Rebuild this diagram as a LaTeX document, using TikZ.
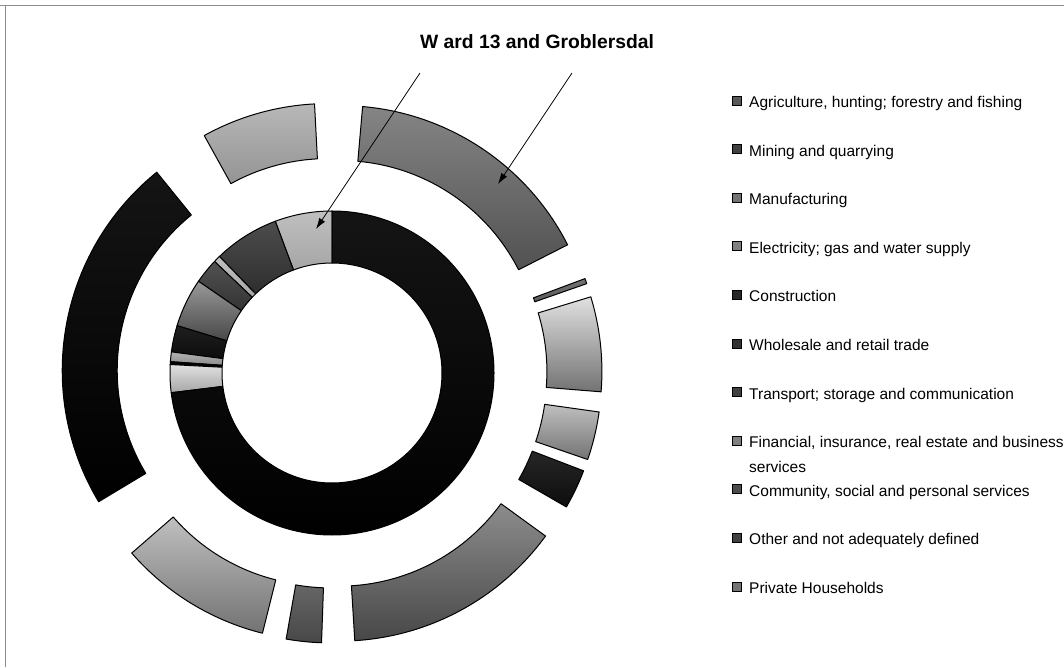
\documentclass[tikz,border=0pt]{standalone}
\usepackage{fontspec}
\setmainfont{Liberation Sans}
\usepackage{tikz}
\usetikzlibrary{arrows.meta}

\tikzset{
  slice/.style={draw=black, line width=1pt, line join=round},
  keybox/.style={draw=black, line width=0.7pt, minimum size=9pt, inner sep=0pt},
  legtext/.style={anchor=base west, inner sep=0pt, font=\fontsize{15.5}{18}\selectfont},
  pointer/.style={-{Latex[length=11pt,width=7pt]}, line width=0.8pt},
}

\begin{document}
\begin{tikzpicture}[x=1pt, y=1pt]
    \useasboundingbox (0,0) rectangle (1064,667);

    % scan frame
    \draw[black!45, line width=0.8pt] (0,662) -- (1064,662);
    \draw[black!45, line width=0.8pt] (5,0) -- (5,662);

    \node[font=\fontsize{19.3}{22}\selectfont\bfseries, anchor=base] (title) at (537,618) {W ard 13 and Groblersdal};

    \begin{scope}[shift={(332,294)}]
        % outer ring, each slice pushed out along its bisector
        \foreach \a/\b/\ct/\cb in {27/85/black!48/black!68, 19.3/20.5/black!55/black!65,
                -4.6/17/black!12/black!55, -19/-8/black!25/black!55, -30/-21/black!85/black!95,
                -86.5/-36/black!45/black!72, -100/-92/black!60/black!72,
                -139/-104/black!25/black!55, 129/211/black!92/black, 93/119/black!28/black!42} {
                \pgfmathsetmacro{\bis}{(\a+\b)/2};
                \begin{scope}[shift={(\bis:15)}]
                    \path[slice, top color=\ct, bottom color=\cb]
                    (\a:200) arc[start angle=\a, end angle=\b, radius=200]
                    -- (\b:255) arc[start angle=\b, end angle=\a, radius=255] -- cycle;
                \end{scope}
            }

        % inner ring
        \foreach \a/\b/\ct/\cb in {90/110.5/black!25/black!35, 110.5/134/black!70/black!82,
                134/136.5/black!25/black!35, 136.5/145.5/black!68/black!80,
                145.5/163/black!40/black!72, 163/172.5/black!88/black!95,
                172.5/176/black!30/black!45, 176/177/black/black, 177/187/black!12/black!35,
                187/450/black!92/black} {
                \path[slice, top color=\ct, bottom color=\cb]
                (\a:110) arc[start angle=\a, end angle=\b, radius=110]
                -- (\b:162) arc[start angle=\b, end angle=\a, radius=162] -- cycle;
            }
    \end{scope}

    \coordinate (ptrA) at (420,594);
    \coordinate (tipA) at (316,438);
    \coordinate (ptrB) at (572,594);
    \coordinate (tipB) at (498,483);
    \draw[pointer] (ptrA) -- (tipA);
    \draw[pointer] (ptrB) -- (tipB);

    % legend
    \foreach \lab/\col [count=\i from 0] in {{Agriculture, hunting; forestry and fishing}/black!65,
            {Mining and quarrying}/black!75, {Manufacturing}/black!55,
            {Electricity; gas and water supply}/black!50, {Construction}/black!85,
            {Wholesale and retail trade}/black!80, {Transport; storage and communication}/black!75,
            {\begin{tabular}[t]{@{}l@{}}Financial, insurance, real estate and business\\[7pt]services\end{tabular}}/black!50,
            {Community, social and personal services}/black!70,
            {Other and not adequately defined}/black!75, {Private Households}/black!55} {
            \node[keybox, fill=\col] (key\i) at (736.5, {566.5-48.6*\i}) {};
            \node[legtext] (leg\i) at (749, {559.5-48.6*\i}) {\lab};
        }

\end{tikzpicture}
\end{document}
